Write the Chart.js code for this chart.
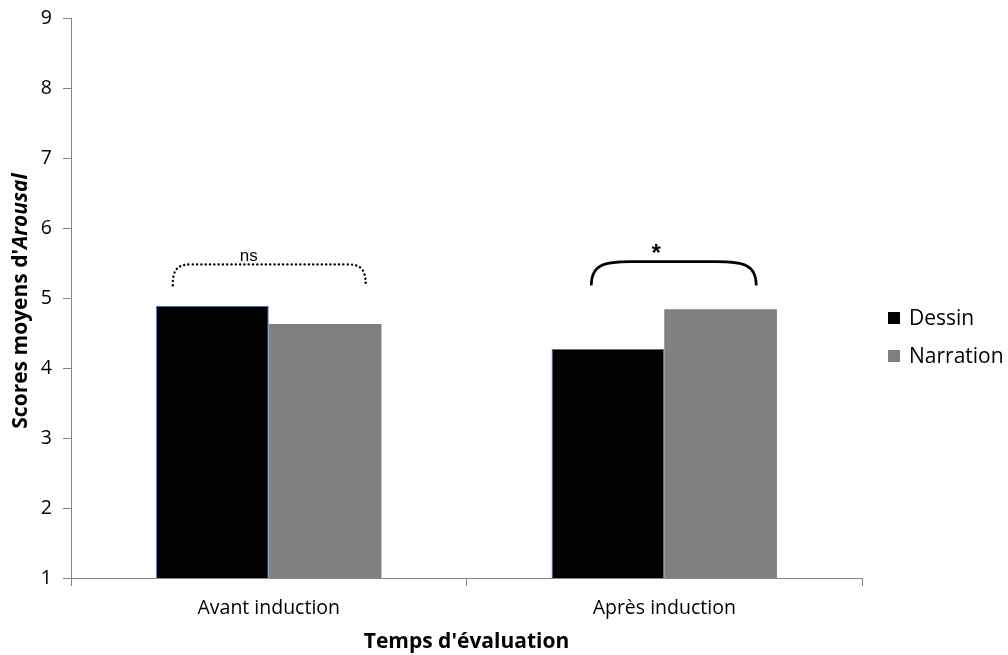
<!DOCTYPE html>
<html><head><meta charset="utf-8">
<script src="https://cdn.jsdelivr.net/npm/chart.js@4.4.1/dist/chart.umd.min.js"></script>
<style>html,body{margin:0;padding:0;background:#fff}#wrap{width:1008px;height:655px}</style>
</head><body><div id="wrap"><canvas id="c" width="1008" height="655"></canvas></div>
<script>
const categories = ["Avant induction", "Après induction"];
const seriesNames = ["Dessin", "Narration"];
const dessinValues = [4.89, 4.27];
const narrationValues = [4.63, 4.84];
const yTicks = [1, 2, 3, 4, 5, 6, 7, 8, 9];
const significanceLabels = ["ns", "*"];

const FONT = "'Open Sans', Lato, sans-serif";
const AXIS = "#868686";

const brackets = [
  {cat: 0, label: significanceLabels[0], dotted: true,  left: -96, right: 97, top: 5.48, end: 5.18, rx: 20, font: "17px 'Liberation Sans', Arial, sans-serif", lw: 2.4, ty: -8},
  {cat: 1, label: significanceLabels[1], dotted: false, left: -73, right: 92, top: 5.52, end: 5.18, rx: 40, font: "bold 24px 'Liberation Sans', Arial, sans-serif", lw: 2.6, ty: -7}
];

const annotate = {
  id: 'annotate',
  afterDraw(chart) {
    const ctx = chart.ctx;
    const xs = chart.scales.x, ys = chart.scales.y;
    const ca = chart.chartArea;
    brackets.forEach(b => {
      const cx = xs.getPixelForValue(b.cat);
      const x0 = cx + b.left, x1 = cx + b.right;
      const yt = ys.getPixelForValue(b.top), ye = ys.getPixelForValue(b.end);
      ctx.save();
      ctx.strokeStyle = '#000';
      ctx.lineWidth = b.lw;
      if (b.dotted) { ctx.setLineDash([0.1, 4.2]); ctx.lineCap = 'round'; }
      ctx.beginPath();
      ctx.moveTo(x0, ye);
      ctx.bezierCurveTo(x0, yt + (ye - yt) * 0.1, x0 + b.rx * 0.35, yt, x0 + b.rx, yt);
      ctx.lineTo(x1 - b.rx, yt);
      ctx.bezierCurveTo(x1 - b.rx * 0.35, yt, x1, yt + (ye - yt) * 0.1, x1, ye);
      ctx.stroke();
      ctx.setLineDash([]);
      ctx.fillStyle = '#000';
      ctx.font = b.font;
      ctx.textAlign = 'center';
      ctx.textBaseline = 'middle';
      const tx = (b.cat === 0) ? cx - 20 : cx - 8;
      ctx.fillText(b.label, tx, yt + b.ty);
      ctx.restore();
    });
    ctx.save();
    chart.data.datasets.forEach((ds, i) => {
      const y = ca.top + 300 + i * 38;
      const x = ca.right + 26;
      ctx.fillStyle = ds.backgroundColor;
      ctx.fillRect(x, y - 6, 12, 12);
      ctx.fillStyle = '#000';
      ctx.font = "21px " + FONT;
      ctx.textAlign = 'left';
      ctx.textBaseline = 'middle';
      ctx.fillText(ds.label, x + 21, y + 1);
    });
    const parts = [["bold 21px " + FONT, "Scores moyens d'"], ["bold italic 21px " + FONT, "Arousal"]];
    let W = 0;
    parts.forEach(p => { ctx.font = p[0]; W += ctx.measureText(p[1]).width; });
    const cy = ca.top + 283;
    ctx.translate(21, cy);
    ctx.rotate(-Math.PI / 2);
    ctx.textBaseline = 'middle';
    ctx.textAlign = 'left';
    ctx.fillStyle = '#000';
    let pos = -W / 2;
    parts.forEach(p => { ctx.font = p[0]; ctx.fillText(p[1], pos, 0); pos += ctx.measureText(p[1]).width; });
    ctx.restore();
  }
};

new Chart(document.getElementById('c'), {
  type: 'bar',
  data: {
    labels: categories,
    datasets: [
      {label: seriesNames[0], data: dessinValues, backgroundColor: '#000000', borderColor: '#4a76b8', borderWidth: 1, borderSkipped: 'bottom'},
      {label: seriesNames[1], data: narrationValues, backgroundColor: '#808080', borderWidth: 0}
    ]
  },
  options: {
    responsive: false,
    animation: false,
    devicePixelRatio: 1,
    layout: {padding: {top: 18, right: 146, left: 0, bottom: 0}},
    plugins: {legend: {display: false}, tooltip: {enabled: false}},
    datasets: {bar: {categoryPercentage: 0.57, barPercentage: 1.0}},
    scales: {
      x: {
        grid: {display: true, drawOnChartArea: false, drawTicks: true, tickLength: 8, color: AXIS, offset: true},
        border: {display: true, color: AXIS, width: 1},
        ticks: {color: '#000', font: {family: FONT, size: 19.5}, padding: 11},
        title: {display: true, text: "Temps d'évaluation", color: '#000', font: {family: FONT, size: 21, weight: 'bold'}, padding: {top: 4, bottom: 0}},
        afterFit(s) { s.height = 77; s.paddingLeft = 0; s.paddingRight = 0; }
      },
      y: {
        min: 1, max: 9,
        afterBuildTicks(s) { s.ticks = yTicks.map(v => ({value: v})); },
        grid: {display: true, drawOnChartArea: false, drawTicks: true, tickLength: 8, color: AXIS},
        border: {display: true, color: AXIS, width: 1},
        ticks: {color: '#000', font: {family: FONT, size: 19.5}, padding: 11},
        afterFit(s) { s.width = 71; s.paddingTop = 0; s.paddingBottom = 0; }
      }
    }
  },
  plugins: [annotate]
});
</script>
</body></html>
